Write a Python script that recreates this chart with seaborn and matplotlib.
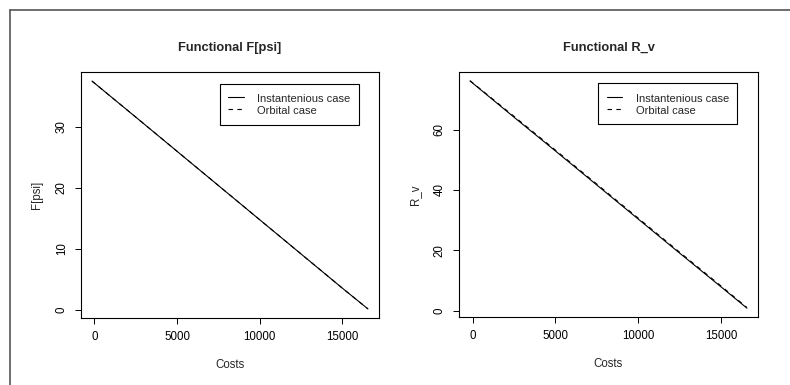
import numpy as np
import pandas as pd
import matplotlib
matplotlib.use("Agg")
import matplotlib.pyplot as plt
import seaborn as sns
from matplotlib.lines import Line2D

# ---- data ----
costs = [-150, 2500, 5000, 7500, 10000, 12500, 15000, 16550]
f_inst = [37.5, 31.6, 26.0, 20.4, 14.8, 9.2, 3.6, 0.2]
f_orb = [37.5, 31.6, 26.0, 20.4, 14.8, 9.2, 3.6, 0.2]
r_inst = [76.1, 64.1, 52.9, 41.6, 30.3, 19.0, 7.8, 0.8]
r_orb = [76.2, 64.4, 53.2, 41.9, 30.6, 19.3, 8.1, 1.0]
series_names = ["Instantenious case", "Orbital case"]
titles = ["Functional F[psi]", "Functional R_v"]
ylabels = ["F[psi]", "R_v"]
xlabel = "Costs"
xticks = [0, 5000, 10000, 15000]
yticks_list = [[0, 10, 20, 30], [0, 20, 40, 60]]

sns.set_style("ticks")
plt.rcParams["font.family"] = ["Liberation Sans", "DejaVu Sans"]

fig = plt.figure(figsize=(7.9, 3.85), dpi=100)
fig.patch.set_facecolor("white")

positions = [[0.1025, 0.174, 0.3772, 0.639], [0.581, 0.176, 0.3785, 0.638]]
values = [(f_inst, f_orb), (r_inst, r_orb)]

for i in range(2):
    ax = fig.add_axes(positions[i])
    inst, orb = values[i]
    df = pd.DataFrame({
        "Costs": costs + costs,
        "val": inst + orb,
        "case": [series_names[0]] * len(costs) + [series_names[1]] * len(costs),
    })
    sns.lineplot(data=df, x="Costs", y="val", hue="case", style="case",
                 palette=["black", "black"], dashes=[(None, None), (4, 4)],
                 linewidth=0.8, ax=ax, legend=False, sort=False)
    ax.margins(0.04)
    ax.set_xticks(xticks)
    ax.set_xticklabels([str(t) for t in xticks])
    ax.set_yticks(yticks_list[i])
    ax.set_yticklabels([str(t) for t in yticks_list[i]], rotation=90, va="center")
    ax.tick_params(axis="both", labelsize=8.3, length=4.5, width=0.7, pad=5,
                   colors="black", direction="out")
    for s in ax.spines.values():
        s.set_visible(True)
        s.set_linewidth(0.8)
        s.set_color("black")
    ax.set_xlabel(xlabel, fontsize=8.3, labelpad=11.5)
    ax.set_ylabel(ylabels[i], fontsize=8.3, labelpad=9.5)
    ax.set_title(titles[i], fontsize=9.3, fontweight="bold", pad=15)
    handles = [Line2D([], [], color="black", lw=0.8),
               Line2D([], [], color="black", lw=0.8, dashes=(4, 4))]
    leg = ax.legend(handles, series_names, loc="upper left",
                    bbox_to_anchor=(0.466, 0.952), fontsize=8,
                    frameon=True, fancybox=False, framealpha=1,
                    edgecolor="black", borderpad=0.75, labelspacing=0.0,
                    handleheight=1.3,
                    handlelength=1.4, handletextpad=1.2, borderaxespad=0)
    leg.get_frame().set_linewidth(0.8)

# outer frame (top and left edges visible in the crop)
fig.add_artist(Line2D([10 / 790, 1.0], [1 - 10 / 385, 1 - 10 / 385],
                      transform=fig.transFigure, color="#555555", lw=1.2))
fig.add_artist(Line2D([10 / 790, 10 / 790], [0, 1 - 10 / 385],
                      transform=fig.transFigure, color="#555555", lw=1.2))

fig.savefig("out.png", dpi=100)
